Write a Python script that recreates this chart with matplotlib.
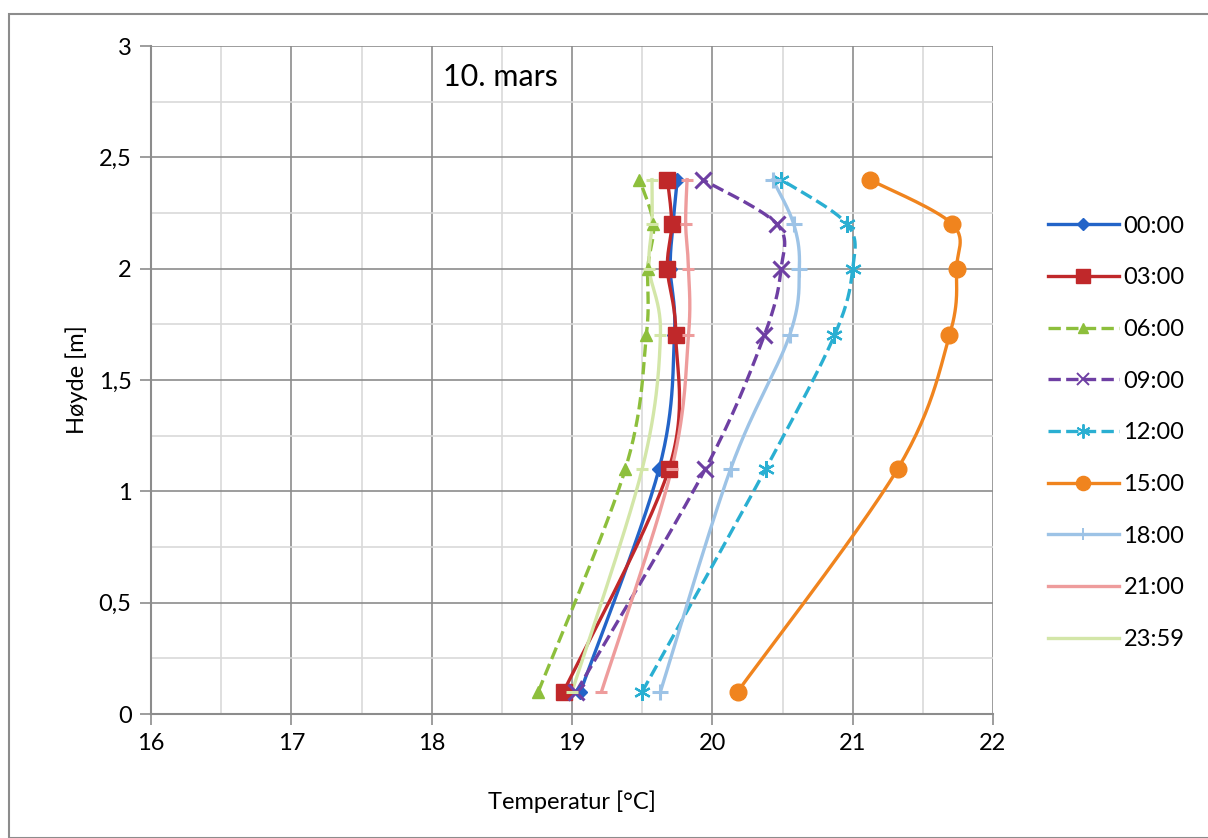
import numpy as np
import matplotlib
matplotlib.use("Agg")
import matplotlib.pyplot as plt
from matplotlib.patches import Rectangle

plt.rcParams['font.family'] = ['Lato', 'DejaVu Sans']

# heights [m]
hoyde = [0.1, 1.1, 1.7, 2.0, 2.2, 2.4]

labels = ["00:00", "03:00", "06:00", "09:00", "12:00", "15:00", "18:00", "21:00", "23:59"]
t0000 = [19.06, 19.62, 19.73, 19.70, 19.72, 19.75]
t0300 = [18.94, 19.69, 19.74, 19.68, 19.71, 19.68]
t0600 = [18.76, 19.38, 19.53, 19.54, 19.58, 19.48]
t0900 = [19.03, 19.95, 20.37, 20.49, 20.46, 19.93]
t1200 = [19.50, 20.38, 20.87, 21.00, 20.96, 20.49]
t1500 = [20.18, 21.32, 21.69, 21.74, 21.71, 21.12]
t1800 = [19.63, 20.13, 20.55, 20.62, 20.58, 20.43]
t2100 = [19.21, 19.71, 19.83, 19.83, 19.81, 19.82]
t2359 = [19.00, 19.50, 19.63, 19.55, 19.57, 19.57]
series = [t0000, t0300, t0600, t0900, t1200, t1500, t1800, t2100, t2359]

colors = ["#2364C8", "#C0282A", "#8DBF3C", "#6E3FA3", "#2AAFD2",
          "#F0841E", "#9DC3E6", "#EE9C9C", "#D3E6A8"]
markers = ["D", "s", "^", "x", "*", "o", "+", "_", "_"]
msizes = [7, 12, 9, 11, 12, 12, 11, 9, 9]
styles = ["-", "-", "--", "--", "--", "-", "-", "-", "-"]


def smooth(x, y, n=30):
    # Excel-like smoothed line (Catmull-Rom as cubic Bezier)
    p = np.column_stack([x, y])
    p = np.vstack([p[0], p, p[-1]])
    out = []
    for i in range(1, len(p) - 2):
        p0, p1, p2, p3 = p[i - 1], p[i], p[i + 1], p[i + 2]
        c1 = p1 + (p2 - p0) / 6
        c2 = p2 - (p3 - p1) / 6
        t = np.linspace(0, 1, n)[:, None]
        seg = ((1 - t) ** 3) * p1 + 3 * ((1 - t) ** 2) * t * c1 + 3 * (1 - t) * t ** 2 * c2 + t ** 3 * p2
        out.append(seg)
    s = np.vstack(out)
    return s[:, 0], s[:, 1]


fig = plt.figure(figsize=(12.08, 8.38), dpi=100)
fig.patches.append(Rectangle((9 / 1208, 0), 1.2, (838 - 14) / 838, transform=fig.transFigure,
                             fill=False, edgecolor="#8c8c8c", linewidth=1.5))
ax = fig.add_axes([151 / 1208, 1 - 714 / 838, (993 - 151) / 1208, (714 - 46) / 838])

for vals, lab, c, m, ms, ls in zip(series, labels, colors, markers, msizes, styles):
    sx, sy = smooth(vals, hoyde)
    ax.plot(sx, sy, color=c, linestyle=ls, linewidth=2.4, zorder=3)
    mew = 2.2 if m in ["x", "+", "_", "*"] else 1
    if m == "*":
        ax.plot(vals, hoyde, linestyle="none", marker=(6, 2, 0), markersize=ms, color=c,
                markeredgewidth=1.6, zorder=4)
    else:
        ax.plot(vals, hoyde, linestyle="none", marker=m, markersize=ms, color=c,
                markeredgewidth=mew, zorder=4)
    # legend proxy
    lm = (6, 2, 0) if m == "*" else (None if m == "_" else m)
    ax.plot([], [], color=c, linestyle=ls, linewidth=2.4, marker=lm,
            markersize=ms * 0.85, markeredgewidth=1.4 if m in ["x", "+", "*"] else 1, label=lab)

ax.set_xlim(16, 22)
ax.set_ylim(0, 3)
ax.set_xticks(np.arange(16, 23, 1))
ax.set_xticks(np.arange(16, 22.01, 0.5), minor=True)
ax.set_yticks(np.arange(0, 3.01, 0.5))
ax.set_yticks(np.arange(0, 3.01, 0.25), minor=True)
ax.set_yticklabels(["0", "0,5", "1", "1,5", "2", "2,5", "3"])
ax.grid(which="major", color="#8c8c8c", linewidth=1.2, zorder=0)
ax.grid(which="minor", color="#d9d9d9", linewidth=1.2, zorder=0)
ax.set_axisbelow(True)
for s in ["top", "right"]:
    ax.spines[s].set_visible(False)
for s in ["left", "bottom"]:
    ax.spines[s].set_color("#8c8c8c")
    ax.spines[s].set_linewidth(1.5)
ax.tick_params(which="major", direction="out", length=8, width=1.2, color="#8c8c8c",
               labelsize=17, pad=6)
ax.tick_params(which="minor", length=0)

ax.set_xlabel("Temperatur [°C]", fontsize=17, labelpad=26)
ax.set_ylabel("Høyde [m]", fontsize=17, labelpad=8)
ax.text(18.08, 2.86, "10. mars", fontsize=22, va="center", ha="left")

leg = ax.legend(loc="upper left", bbox_to_anchor=(1.04, 0.778), frameon=False,
                fontsize=17, handlelength=3.0, labelspacing=1.3, handletextpad=0.2)

fig.savefig("out.png", dpi=100)
